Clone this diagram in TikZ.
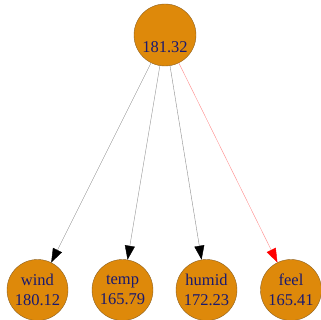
\documentclass[tikz,border=0pt]{standalone}
\usepackage{fontspec}
\setmainfont{Liberation Serif}
\usetikzlibrary{arrows.meta}
\definecolor{nodefill}{RGB}{222,137,10}
\definecolor{nodeedge}{RGB}{140,95,30}
\definecolor{nodetext}{RGB}{25,25,112}
\begin{document}
\begin{tikzpicture}[x=1pt,y=-1pt,
    leaf/.style={circle,draw=nodeedge,line width=0.4pt,fill=nodefill,
      text=nodetext,minimum size=61pt,inner sep=0pt,align=center,
      font=\fontsize{16.5}{20}\selectfont},
    edge/.style={line width=0.4pt,black!45,
      -{Triangle[length=14pt,width=10pt,color=black]}}]
  \useasboundingbox (0,0) rectangle (321,320);
  \node[leaf,minimum size=62pt] (root) at (165,35) {\strut\\[2pt]181.32};
  \node[leaf] (wind) at (37.5,290) {wind\\180.12};
  \node[leaf] (temp) at (122.5,290) {temp\\165.79};
  \node[leaf] (humid) at (206.5,290) {humid\\172.23};
  \node[leaf] (feel) at (291,290) {feel\\165.41};
  \draw[edge] (root) -- (wind);
  \draw[edge] (root) -- (temp);
  \draw[edge] (root) -- (humid);
  \draw[edge,red!45,-{Triangle[length=14pt,width=10pt,color=red]}] (root) -- (feel);
\end{tikzpicture}
\end{document}
